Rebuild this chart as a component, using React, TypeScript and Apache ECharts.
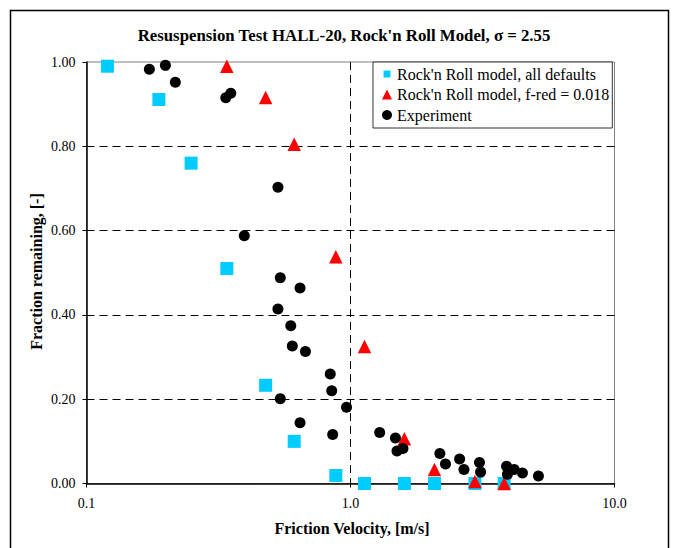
import React, { useEffect, useRef } from "react";
import * as echarts from "echarts";

// Friction velocity (m/s) at which both Rock'n Roll model runs were evaluated
const velocityDefaults = [0.12, 0.188, 0.249, 0.34, 0.477, 0.612, 0.88, 1.13, 1.6, 2.08, 2.96, 3.82];
const fractionDefaults = [0.99, 0.911, 0.76, 0.51, 0.233, 0.1, 0.019, 0, 0, 0, 0, 0];

const velocityFred = [0.34, 0.477, 0.612, 0.88, 1.13, 1.6, 2.08, 2.96, 3.82];
const fractionFred = [0.99, 0.916, 0.805, 0.538, 0.325, 0.106, 0.033, 0.005, 0.0];

// HALL-20 experimental measurements
const velocityExp = [
  0.173, 0.199, 0.217, 0.337, 0.352, 0.531, 0.396, 0.542, 0.644, 0.531, 0.594, 0.602,
  0.675, 0.838, 0.849, 0.542, 0.966, 0.644, 0.856, 1.29, 1.48, 1.5, 1.58, 2.18, 2.29,
  2.59, 2.69, 3.08, 3.11, 3.9, 3.93, 4.17, 4.48, 5.15,
];
const fractionExp = [
  0.983, 0.992, 0.952, 0.915, 0.926, 0.703, 0.588, 0.488, 0.464, 0.414, 0.374, 0.326,
  0.313, 0.26, 0.22, 0.201, 0.181, 0.144, 0.116, 0.121, 0.108, 0.077, 0.083, 0.071, 0.046,
  0.058, 0.033, 0.05, 0.027, 0.041, 0.022, 0.033, 0.025, 0.018,
];

const seriesNames = [
  "Rock'n Roll model, all defaults",
  "Rock'n Roll model, f-red = 0.018",
  "Experiment",
];

const chartTitle = "Resuspension Test HALL-20, Rock'n Roll Model, \u03c3 = 2.55";
const xAxisTitle = "Friction Velocity, [m/s]";
const yAxisTitle = "Fraction remaining, [-]";

const FONT = '"Liberation Serif", "Times New Roman", serif';

const pairs = (xs: number[], ys: number[]) => xs.map((x, i) => [x, ys[i]]);

export default function App() {
  const ref = useRef<HTMLDivElement>(null);

  useEffect(() => {
    if (!ref.current) return;
    const chart = echarts.init(ref.current, undefined, { renderer: "svg" });

    const dashed = { color: "#000", width: 1, type: [8, 5] as number[] };

    chart.setOption({
      animation: false,
      backgroundColor: "#fff",
      grid: {
        left: 86.5,
        right: 58.5,
        top: 62,
        bottom: 64.5,
        show: true,
        borderColor: "#808080",
        borderWidth: 1,
        backgroundColor: "#fff",
      },
      xAxis: {
        type: "log",
        logBase: 10,
        min: 0.1,
        max: 10,
        axisLine: { show: true, onZero: false, lineStyle: { color: "#000", width: 1.5 } },
        axisTick: { show: true, length: 4, lineStyle: { color: "#000" } },
        minorTick: { show: false },
        axisLabel: {
          color: "#000",
          fontFamily: FONT,
          fontSize: 14,
          margin: 13,
          formatter: (v: number) => v.toFixed(1),
        },
        splitLine: { show: true, showMinLine: false, showMaxLine: false, lineStyle: dashed },
      },
      yAxis: {
        type: "value",
        min: 0,
        max: 1,
        interval: 0.2,
        axisLine: { show: true, onZero: false, lineStyle: { color: "#000", width: 1.5 } },
        axisTick: { show: true, length: 4, lineStyle: { color: "#000" } },
        axisLabel: {
          color: "#000",
          fontFamily: FONT,
          fontSize: 14,
          margin: 11,
          formatter: (v: number) => v.toFixed(2),
        },
        splitLine: { show: true, showMinLine: false, showMaxLine: false, lineStyle: dashed },
      },
      legend: {
        orient: "vertical",
        left: 373,
        top: 62,
        backgroundColor: "#fff",
        borderColor: "#333",
        borderWidth: 1,
        padding: [2, 3, 3, 9],
        itemGap: 0.5,
        itemWidth: 10,
        itemHeight: 10,
        selectedMode: false,
        textStyle: { color: "#000", fontFamily: FONT, fontSize: 16, lineHeight: 20 },
        data: [
          { name: seriesNames[0], icon: "path://M0,0M10,10M1.5,1.5L8.5,1.5L8.5,8.5L1.5,8.5Z" },
          { name: seriesNames[1], icon: "triangle" },
          { name: seriesNames[2], icon: "circle" },
        ],
      },
      series: [
        {
          name: seriesNames[0],
          type: "scatter",
          symbol: "rect",
          symbolSize: 13,
          itemStyle: { color: "#00CCFF", opacity: 1 },
          data: pairs(velocityDefaults, fractionDefaults),
        },
        {
          name: seriesNames[1],
          type: "scatter",
          symbol: "triangle",
          symbolSize: 13.5,
          itemStyle: { color: "#FF0000", opacity: 1 },
          data: pairs(velocityFred, fractionFred),
        },
        {
          name: seriesNames[2],
          type: "scatter",
          symbol: "circle",
          symbolSize: 11,
          itemStyle: { color: "#000", opacity: 1 },
          data: pairs(velocityExp, fractionExp),
        },
      ],
      graphic: [
        {
          type: "rect",
          silent: true,
          z: -10,
          shape: { x: 10.5, y: 10.5, width: 658, height: 560 },
          style: { fill: "none", stroke: "#000", lineWidth: 1.5 },
        },
        {
          type: "text",
          x: 344,
          y: 35,
          style: {
            text: chartTitle,
            fill: "#000",
            font: `bold 16.8px ${FONT}`,
            textAlign: "center",
            textVerticalAlign: "middle",
          },
        },
        {
          type: "text",
          x: 352,
          y: 528,
          style: {
            text: xAxisTitle,
            fill: "#000",
            font: `bold 16px ${FONT}`,
            textAlign: "center",
            textVerticalAlign: "middle",
          },
        },
        {
          type: "text",
          x: 36,
          y: 271.5,
          rotation: Math.PI / 2,
          style: {
            text: yAxisTitle,
            fill: "#000",
            font: `bold 16px ${FONT}`,
            textAlign: "center",
            textVerticalAlign: "middle",
          },
        },
      ],
    });

    return () => chart.dispose();
  }, []);

  return (
    <div
      ref={ref}
      style={{ position: "fixed", left: 0, top: 0, width: 673, height: 548, background: "#fff" }}
    />
  );
}
